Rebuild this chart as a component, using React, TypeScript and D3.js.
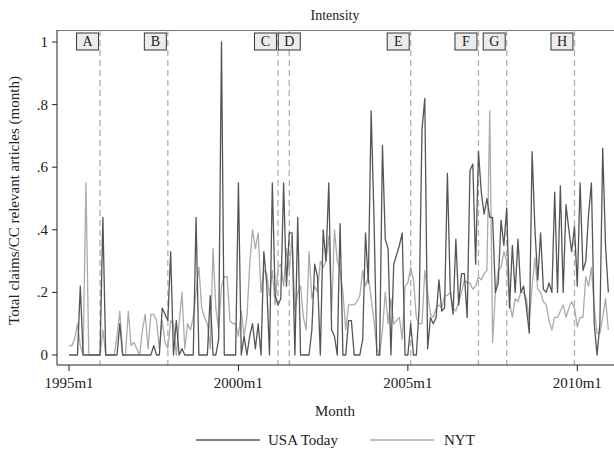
import React from 'react';
import * as d3 from 'd3';

// monthly series, 1995m1 .. 2010m12
const usaToday = [
  0, 0, 0, 0, .22, 0, 0, 0, 0, 0,
  0, 0, .44, 0, 0, 0, 0, 0, .1, 0,
  0, 0, 0, 0, 0, 0, 0, 0, 0, 0,
  .03, 0, 0, .15, .13, .11, .33, 0, .11, 0,
  .02, 0, 0, 0, 0, .44, 0, 0, 0, 0,
  .19, 0, 0, .05, 1, 0, 0, 0, 0, 0,
  .55, 0, .06, 0, .06, .1, .02, .1, 0, .33,
  .23, 0, .55, .19, .16, .18, .55, .22, .39, .39,
  0, .44, 0, 0, 0, 0, .08, .29, .25, 0,
  .4, .3, .55, .08, .06, 0, .42, 0, 0, .11,
  .11, 0, 0, 0, .05, .39, .23, .78, .44, 0,
  0, .67, .37, .34, 0, .29, .32, .35, .39, 0,
  0, .1, 0, 0, .15, .72, .82, .02, .12, .1,
  .12, .24, .14, .15, .58, .21, .13, .37, .16, .26,
  .26, .12, .59, .61, .29, .65, .52, .45, .5, .44,
  .44, .2, .23, .43, .35, .47, .15, .35, .2, .37,
  .2, .22, .15, .07, .65, .4, .24, .39, .21, .2,
  .23, .2, .52, .2, .54, .2, .48, .4, .33, .41,
  .22, .55, .27, .3, .45, .55, .1, 0, .1, .66,
  .35, .2,
];

const nyt = [
  .03, .03, .05, .1, .03, 0, .55, 0, 0, 0,
  0, 0, .08, 0, 0, 0, 0, .06, .14, 0,
  0, .14, .03, .04, .02, 0, .08, .13, .02, .13,
  .13, .11, .02, .11, .04, .02, .11, .1, 0, .1,
  .2, .02, .1, .08, .12, .2, .28, .15, .12, .1,
  .02, .34, .15, .08, .22, .25, .25, .11, .1, .1,
  .06, .14, .06, .12, .29, .4, .34, .39, .2, .27,
  .26, .19, .27, .16, .28, .29, .22, .34, .27, .38,
  .14, .2, .22, .12, .08, .33, .18, .22, .2, .3,
  .28, .3, .38, .14, .4, .3, .27, .2, .08, .16,
  .16, .16, .17, .19, .27, .22, .25, .18, .11, .02,
  0, .08, .2, .1, .18, .1, .11, .12, .05, .22,
  .23, .28, .24, .12, .1, .1, .27, .2, .13, .12,
  .15, .16, .15, .19, .19, .2, .15, .14, .17, .2,
  .24, .23, .23, .21, .22, .25, .24, .26, .27, .78,
  .04, .2, .27, .28, .33, .3, .17, .12, .18, .17,
  .2, .2, .18, .11, .22, .31, .21, .2, .17, .16,
  .11, .08, .12, .12, .14, .16, .12, .15, .17, .15,
  .09, .12, .12, .25, .22, .28, .15, .07, .07, .12,
  .18, .08,
];

// events (month index from 1995m1)
const eventMonths = [11, 35, 74, 78, 121, 145, 155, 179];
const eventLabels = ['A', 'B', 'C', 'D', 'E', 'F', 'G', 'H'];

const yTicks = [0, .2, .4, .6, .8, 1];
const yTickLabels = ['0', '.2', '.4', '.6', '.8', '1'];
const xTicks = [0, 60, 120, 180];
const xTickLabels = ['1995m1', '2000m1', '2005m1', '2010m1'];

const W = 614;
const H = 458;
const font = '"Liberation Serif", "Times New Roman", serif';
const dark = '#555555';
const light = '#ababab';

const App = () => {
  const left = 57, right = 614, top = 30, bottom = 365;
  const x = d3.scaleLinear().domain([0, 180]).range([69, 577.3]);
  const y = d3.scaleLinear().domain([0, 1]).range([355, 42]);

  const line = d3.line<number>().x((d, i) => x(i)).y(d => y(d));

  const boxW = 22, boxH = 17, boxY = 33;

  return (
    <svg width={W} height={H} style={{ position: 'absolute', left: 0, top: 0, background: '#fff' }}
      fontFamily={font}>
      <text x={335} y={20} fontSize={14} textAnchor="middle" fill="#222">Intensity</text>
      <line x1={left} x2={right} y1={top + .5} y2={top + .5} stroke="#777" strokeWidth={1} />

      {/* event lines */}
      {eventMonths.map((m, i) => (
        <line key={'ev' + i} x1={x(m)} x2={x(m)} y1={top} y2={bottom}
          stroke="#b0b0b0" strokeWidth={1.3} strokeDasharray="6,4" />
      ))}

      <path d={line(nyt) || ''} fill="none" stroke={light} strokeWidth={1.3} strokeLinejoin="round" />
      <path d={line(usaToday) || ''} fill="none" stroke={dark} strokeWidth={1.3} strokeLinejoin="round" />

      {/* event labels */}
      {eventMonths.map((m, i) => {
        const bx = eventLabels[i] === 'D' ? x(m) - boxW / 2 : x(m) - boxW - 1.5;
        return (
          <g key={'lb' + i}>
            <rect x={bx} y={boxY} width={boxW} height={boxH} fill="#ececec" stroke="#333" strokeWidth={1} />
            <text x={bx + boxW / 2} y={boxY + 13} fontSize={14} textAnchor="middle" fill="#222">{eventLabels[i]}</text>
          </g>
        );
      })}

      {/* y axis */}
      <line x1={left} x2={left} y1={top} y2={bottom} stroke="#222" strokeWidth={1} />
      {yTicks.map((t, i) => (
        <g key={'yt' + i}>
          <line x1={left - 5} x2={left} y1={y(t)} y2={y(t)} stroke="#222" />
          <text x={left - 9} y={y(t) + 5} fontSize={15} textAnchor="end" fill="#222">{yTickLabels[i]}</text>
        </g>
      ))}
      <text transform={`translate(19,${(top + bottom) / 2 + 3}) rotate(-90)`} fontSize={15}
        textAnchor="middle" fill="#222">Total claims/CC relevant articles (month)</text>

      {/* x axis */}
      <line x1={left} x2={right} y1={bottom} y2={bottom} stroke="#222" strokeWidth={1} />
      {xTicks.map((t, i) => (
        <g key={'xt' + i}>
          <line x1={x(t)} x2={x(t)} y1={bottom} y2={bottom + 6} stroke="#222" />
          <text x={x(t)} y={388} fontSize={15} textAnchor="middle" fill="#222">{xTickLabels[i]}</text>
        </g>
      ))}
      <text x={335} y={416} fontSize={15} textAnchor="middle" fill="#222">Month</text>

      {/* legend */}
      <line x1={196} x2={260} y1={440} y2={440} stroke={dark} strokeWidth={1.3} />
      <text x={268} y={445} fontSize={15} fill="#222">USA Today</text>
      <line x1={370} x2={434} y1={440} y2={440} stroke={light} strokeWidth={1.3} />
      <text x={444} y={445} fontSize={15} fill="#222">NYT</text>
    </svg>
  );
};

export default App;
